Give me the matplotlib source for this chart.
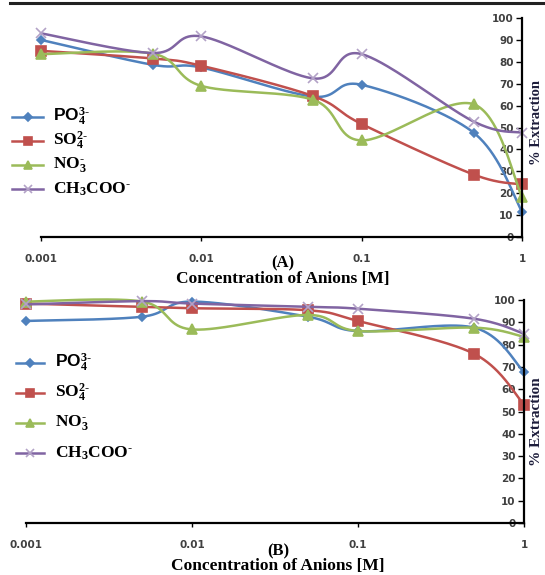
import numpy as np
import matplotlib
matplotlib.use("Agg")
import matplotlib.pyplot as plt
from matplotlib.lines import Line2D

plt.rcParams['mathtext.fontset'] = 'custom'
plt.rcParams['mathtext.rm'] = 'Liberation Serif:bold'
plt.rcParams['mathtext.it'] = 'Liberation Serif:bold'
plt.rcParams['mathtext.bf'] = 'Liberation Serif:bold'

# ---------- data ----------
conc = [0.001, 0.005, 0.01, 0.05, 0.1, 0.5, 1]

po4_a = [90, 78.6, 77.4, 64.1, 69.5, 47.6, 11.6]
so4_a = [85, 81.5, 78.2, 64.3, 51.6, 28.5, 24]
no3_a = [83.5, 83.7, 69, 62.6, 44.1, 60.6, 18.3]
ac_a = [93, 84, 91.6, 72.4, 83.5, 52.7, 47.6]

po4_b = [90.6, 92.5, 99.3, 92.5, 86, 87.6, 67.7]
so4_b = [98.4, 96.9, 96.3, 95.4, 90.6, 75.9, 53.1]
no3_b = [99.3, 99.3, 86.8, 93.3, 86.1, 87.6, 83.5]
ac_b = [98, 99.5, 98.4, 96.9, 96.1, 91.6, 84.9]

labels = [r'PO$_4^{3\text{-}}$', r'SO$_4^{2\text{-}}$',
          r'NO$_3^{\text{-}}$', r'CH$_3$COO$^{\text{-}}$']
label_fonts = ['Liberation Sans', 'Liberation Serif', 'Liberation Serif', 'Liberation Serif']
colors = ['#4F81BD', '#C0504D', '#9BBB59', '#8064A2']
markers = ['D', 's', '^', 'x']
msizes = [4.5, 6.5, 6.5, 6.5]
mcolors = ['#4F81BD', '#C0504D', '#9BBB59', '#B3A2C7']

xticks = [0.001, 0.01, 0.1, 1]
xticklabels = ['0.001', '0.01', '0.1', '1']
yticks = list(range(0, 101, 10))

W, H = 545, 575


def smooth(xs, ys, wpx, hpx, n=40):
    # Excel-like smoothed line: Catmull-Rom bezier in screen space
    u = (np.log10(xs) + 3) / 3 * wpx
    v = np.asarray(ys, float) / 100 * hpx
    P = np.column_stack([u, v])
    P = np.vstack([P[0], P, P[-1]])
    out = []
    t = np.linspace(0, 1, n)[:, None]
    for i in range(1, len(P) - 2):
        p0, p3 = P[i], P[i + 1]
        c1 = p0 + (P[i + 1] - P[i - 1]) / 6
        c2 = p3 - (P[i + 2] - P[i]) / 6
        seg = ((1 - t) ** 3) * p0 + 3 * ((1 - t) ** 2) * t * c1 + 3 * (1 - t) * t ** 2 * c2 + t ** 3 * p3
        out.append(seg if i == 1 else seg[1:])
    out = np.vstack(out)
    return 10 ** (out[:, 0] / wpx * 3 - 3), out[:, 1] / hpx * 100


def panel(rect, series, tag, leg_y, xlab_y, tag_y, ylab_y, ylab_fs):
    ax = fig.add_axes([rect[0] / W, 1 - rect[3] / H, (rect[1] - rect[0]) / W, (rect[3] - rect[2]) / H])
    wpx, hpx = rect[1] - rect[0], rect[3] - rect[2]
    for ys, c, m, ms, mc in zip(series, colors, markers, msizes, mcolors):
        sx, sy = smooth(np.array(conc), ys, wpx, hpx)
        ax.plot(sx, sy, color=c, lw=1.8, solid_capstyle='round', clip_on=False)
        ax.plot(conc, ys, ls='none', marker=m, ms=ms, color=mc, mec=mc, mew=1.2, clip_on=False)
    ax.set_xscale('log')
    ax.set_xlim(0.001, 1)
    ax.set_ylim(0, 100)
    ax.set_xticks(xticks)
    ax.set_xticklabels(xticklabels)
    ax.minorticks_off()
    ax.set_yticks(yticks)
    for s in ['top', 'right']:
        ax.spines[s].set_visible(False)
    ax.spines['left'].set_position(('axes', 1.0))
    ax.spines['left'].set_linewidth(1.6)
    ax.spines['bottom'].set_linewidth(1.6)
    ax.tick_params(axis='y', direction='out', length=4, width=1, pad=2,
                   labelsize=7.5, labelcolor='#404040')
    ax.tick_params(axis='x', direction='out', length=3, width=1, pad=9,
                   labelsize=7.5, labelcolor='#404040')
    for t in ax.get_xticklabels() + ax.get_yticklabels():
        t.set_fontweight('bold')
    ax.patch.set_visible(False)

    # legend drawn at fixed spots
    x0, x1, xt = leg_y[0]
    for k, yy in enumerate(leg_y[1:]):
        fy = 1 - yy / H
        fig.add_artist(Line2D([x0 / W, x1 / W], [fy, fy], color=colors[k], lw=1.8))
        fig.add_artist(Line2D([(x0 + x1) / 2 / W], [fy], ls='none', marker=markers[k],
                              ms=msizes[k] * 0.9, color=mcolors[k], mec=mcolors[k], mew=1.2))
        fig.text(xt / W, fy, labels[k], family=label_fonts[k], weight='bold',
                 fontsize=12.5, va='center', ha='left', color='black')

    fig.text(rect[4] / W, 1 - tag_y / H, tag, family='Liberation Serif', weight='bold',
             fontsize=12, ha='center', va='center')
    fig.text(rect[4] / W, 1 - xlab_y / H, 'Concentration of Anions [M]', family='Liberation Serif',
             weight='bold', fontsize=12.5, ha='center', va='center')
    fig.text(537 / W, 1 - ylab_y / H, '% Extraction', family='Liberation Serif', weight='bold',
             fontsize=ylab_fs, rotation=90, ha='center', va='center', color='#1c1c3a')
    return ax


fig = plt.figure(figsize=(W / 100, H / 100), dpi=100)
fig.add_artist(Line2D([10 / W, 1], [1 - 3 / H, 1 - 3 / H], color='#222222', lw=2.2))

panel((41, 522, 18, 237, 283), [po4_a, so4_a, no3_a, ac_a], '(A)',
      [(12, 43, 53), 117, 141, 165, 189], 279, 263, 122, 10.5)
panel((26, 524, 300, 523, 278), [po4_b, so4_b, no3_b, ac_b], '(B)',
      [(16, 44, 55), 363, 393, 423, 453], 566, 551, 422, 11)

fig.savefig('out.png', dpi=100)
